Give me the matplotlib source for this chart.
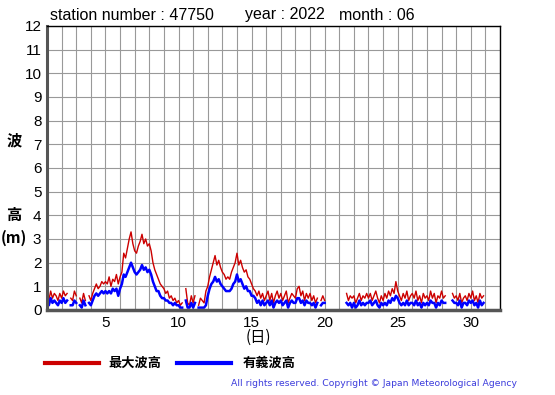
import numpy as np
import matplotlib
matplotlib.use("Agg")
import matplotlib.pyplot as plt
from matplotlib.lines import Line2D

# 3-hourly values (8 per day), None = missing
hmax = [
    0.6, 0.4, 0.8, 0.5, 0.7, 0.6, 0.4, 0.7,        # 1
    0.5, 0.8, 0.6, 0.7, None, 0.5, 0.4, 0.8,       # 2
    0.6, None, 0.5, 0.3, 0.7, 0.4, None, 0.6,      # 3
    0.4, 0.7, 0.9, 1.1, 0.9, 1.0, 1.2, 1.1,        # 4
    1.2, 1.1, 1.4, 1.0, 1.3, 1.2, 1.5, 1.1,        # 5
    1.4, 1.6, 2.4, 2.2, 2.6, 3.0, 3.3, 2.8,        # 6
    2.5, 2.4, 2.7, 2.9, 3.2, 2.8, 3.0, 2.7,        # 7
    2.8, 2.5, 2.0, 1.7, 1.5, 1.3, 1.1, 1.0,        # 8
    0.9, 0.7, 0.8, 0.5, 0.6, 0.4, 0.5, 0.3,        # 9
    0.4, 0.2, 0.3, None, 0.9, 0.3, 0.2, 0.6,       # 10
    0.3, 0.6, None, 0.2, 0.5, 0.4, 0.3, 0.8,       # 11
    1.0, 1.4, 1.7, 2.0, 2.3, 1.9, 2.1, 1.8,        # 12
    1.6, 1.5, 1.3, 1.4, 1.3, 1.6, 1.8, 2.0,        # 13
    2.4, 1.9, 2.1, 1.8, 1.6, 1.7, 1.4, 1.3,        # 14
    1.1, 0.9, 0.8, 0.6, 0.8, 0.5, 0.7, 0.4,        # 15
    0.6, 0.8, 0.4, 0.7, 0.3, 0.6, 0.8, 0.5,        # 16
    0.7, 0.4, 0.6, 0.8, 0.3, 0.5, 0.7, 0.6,        # 17
    0.5, 0.9, 1.0, 0.6, 0.8, 0.4, 0.7, 0.5,        # 18
    0.7, 0.4, 0.6, 0.3, 0.5, None, 0.4, 0.6,       # 19
    0.4, None, 0.5, None, None, None, None, None,  # 20
    None, None, None, None, 0.7, 0.4, 0.6, 0.5,    # 21
    0.6, 0.3, 0.5, 0.7, 0.4, 0.6, 0.5, 0.7,        # 22
    0.5, 0.7, 0.4, 0.6, 0.8, 0.5, 0.3, 0.6,        # 23
    0.4, 0.7, 0.5, 0.8, 0.6, 0.9, 0.7, 1.2,        # 24
    0.8, 0.6, 0.4, 0.7, 0.5, 0.8, 0.4, 0.6,        # 25
    0.7, 0.5, 0.8, 0.4, 0.6, 0.3, 0.7, 0.5,        # 26
    0.6, 0.4, 0.8, 0.5, 0.7, 0.3, 0.6, 0.5,        # 27
    0.8, 0.5, 0.6, None, None, None, 0.7, 0.5,     # 28
    0.6, 0.4, 0.7, 0.3, 0.5, 0.6, 0.4, 0.7,        # 29
    0.5, 0.8, 0.4, 0.6, 0.3, 0.7, 0.5, 0.6,        # 30
]
hsig = [
    0.3, 0.2, 0.5, 0.3, 0.4, 0.3, 0.2, 0.4,        # 1
    0.3, 0.5, 0.3, 0.4, None, 0.2, 0.2, 0.4,       # 2
    0.3, None, 0.2, 0.1, 0.4, 0.2, None, 0.3,      # 3
    0.2, 0.4, 0.6, 0.7, 0.6, 0.7, 0.8, 0.7,        # 4
    0.8, 0.7, 0.8, 0.7, 0.9, 0.8, 0.9, 0.6,        # 5
    0.9, 1.1, 1.5, 1.4, 1.6, 1.8, 2.0, 1.8,        # 6
    1.6, 1.5, 1.6, 1.7, 1.9, 1.7, 1.8, 1.6,        # 7
    1.7, 1.5, 1.2, 1.0, 0.8, 0.8, 0.6, 0.5,        # 8
    0.5, 0.4, 0.4, 0.3, 0.3, 0.2, 0.3, 0.2,        # 9
    0.2, 0.1, 0.1, None, 0.4, 0.1, 0.1, 0.3,       # 10
    0.1, 0.3, None, 0.1, 0.1, 0.1, 0.1, 0.2,       # 11
    0.6, 0.9, 1.1, 1.2, 1.4, 1.2, 1.3, 1.1,        # 12
    1.0, 0.9, 0.8, 0.8, 0.8, 0.9, 1.1, 1.2,        # 13
    1.5, 1.2, 1.3, 1.1, 0.9, 1.0, 0.8, 0.8,        # 14
    0.6, 0.6, 0.5, 0.3, 0.4, 0.2, 0.4, 0.2,        # 15
    0.3, 0.4, 0.2, 0.4, 0.1, 0.3, 0.4, 0.3,        # 16
    0.4, 0.2, 0.3, 0.4, 0.1, 0.3, 0.4, 0.3,        # 17
    0.3, 0.5, 0.5, 0.3, 0.4, 0.2, 0.4, 0.3,        # 18
    0.3, 0.2, 0.3, 0.1, 0.3, None, 0.2, 0.3,       # 19
    0.3, None, 0.3, None, None, None, None, None,  # 20
    None, None, None, None, 0.3, 0.2, 0.3, 0.1,    # 21
    0.3, 0.1, 0.2, 0.4, 0.2, 0.3, 0.2, 0.3,        # 22
    0.3, 0.4, 0.2, 0.3, 0.4, 0.2, 0.1, 0.3,        # 23
    0.2, 0.3, 0.2, 0.4, 0.3, 0.5, 0.4, 0.6,        # 24
    0.5, 0.3, 0.2, 0.3, 0.2, 0.4, 0.2, 0.3,        # 25
    0.3, 0.2, 0.4, 0.2, 0.3, 0.1, 0.3, 0.2,        # 26
    0.3, 0.2, 0.4, 0.3, 0.3, 0.1, 0.3, 0.2,        # 27
    0.4, 0.3, 0.3, None, None, None, 0.4, 0.3,     # 28
    0.3, 0.2, 0.4, 0.1, 0.3, 0.3, 0.2, 0.4,        # 29
    0.3, 0.4, 0.2, 0.3, 0.1, 0.4, 0.2, 0.3,        # 30
]
xticks = [5, 10, 15, 20, 25, 30]
yticks = list(range(0, 13))
title_parts = ["station number : 47750", "year : 2022", "month : 06"]
legend_names = ["最大波高", "有義波高"]

RED = "#cc0000"
BLUE = "#0000ff"
JP = ["Noto Sans CJK JP", "DejaVu Sans"]

ymax = np.array(hmax, dtype=float)
ysig = np.array(hsig, dtype=float)
t = 1 + np.arange(len(ymax)) / 8.0

fig = plt.figure(figsize=(5.55, 3.95), dpi=100)
ax = fig.add_axes([0.0847, 0.2152, 0.8162, 0.719])

ax.plot(t, ymax, color=RED, lw=1.0)
ax.plot(t, ysig, color=BLUE, lw=1.8)

ax.set_xlim(1, 32)
ax.set_ylim(0, 12)
ax.set_xticks(range(1, 33), minor=True)
ax.set_xticks(xticks)
ax.set_yticks(yticks)
ax.grid(True, which="both", axis="x", color="#999999", lw=0.8)
ax.grid(True, which="major", axis="y", color="#999999", lw=0.8)
ax.tick_params(which="both", length=0, labelsize=11, pad=4)
for lab in ax.get_xticklabels() + ax.get_yticklabels():
    lab.set_family("Liberation Sans")
ax.spines["left"].set_linewidth(2.2)
ax.spines["left"].set_color("#555555")
ax.spines["bottom"].set_linewidth(2.5)
ax.spines["bottom"].set_color("#555555")
ax.spines["top"].set_linewidth(1.0)
ax.spines["right"].set_linewidth(1.0)

# header, three pieces
for txt, xp in zip(title_parts, [50, 245, 339]):
    fig.text(xp / 555, 1 - 15 / 395, txt, fontsize=11.5, family="Liberation Sans", va="center", ha="left")

# y label, stacked vertically
fig.text(14 / 555, 1 - 140 / 395, "波", fontsize=11, family=JP, weight="bold", ha="center", va="center")
fig.text(14 / 555, 1 - 215 / 395, "高", fontsize=11, family=JP, weight="bold", ha="center", va="center")
fig.text(14 / 555, 1 - 238 / 395, "(m)", fontsize=11, family=JP, weight="bold", ha="center", va="center")

fig.text(258 / 555, 1 - 337 / 395, "(日)", fontsize=11, family=JP, ha="center", va="center")

# legend drawn by hand at the bottom
fig.add_artist(Line2D([45 / 555, 99 / 555], [1 - 363 / 395] * 2, color=RED, lw=3))
fig.text(108 / 555, 1 - 363 / 395, legend_names[0], fontsize=9.5, family=JP, weight="bold", va="center")
fig.add_artist(Line2D([177 / 555, 231 / 555], [1 - 363 / 395] * 2, color=BLUE, lw=3))
fig.text(243 / 555, 1 - 363 / 395, legend_names[1], fontsize=9.5, family=JP, weight="bold", va="center")

fig.text(517 / 555, 1 - 384 / 395, "All rights reserved. Copyright © Japan Meteorological Agency",
         fontsize=6.7, color="#3c3cdc", ha="right", va="center")

fig.savefig("out.png", dpi=100)
